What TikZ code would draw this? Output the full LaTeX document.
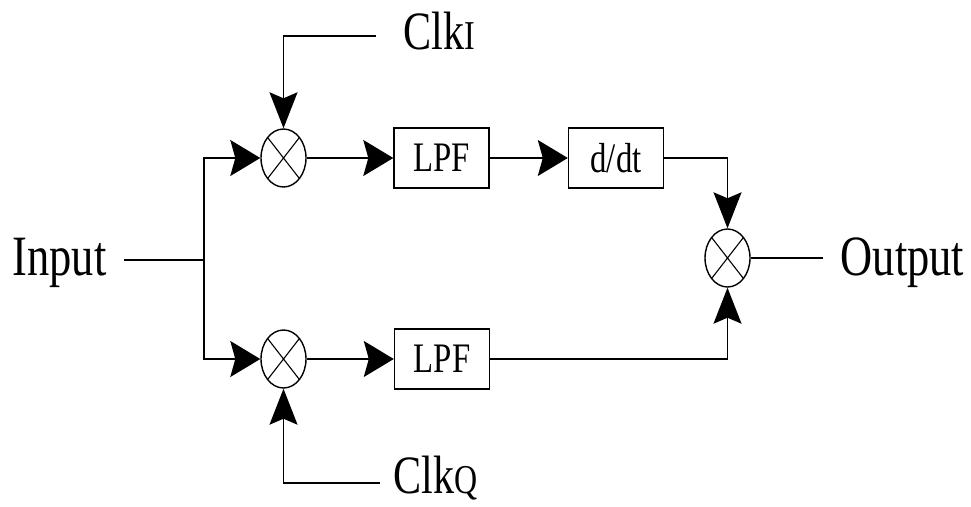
\documentclass[tikz,border=0pt]{standalone}
\usepackage{fontspec}
\setmainfont{Liberation Serif}[FakeStretch=0.78]
\usetikzlibrary{arrows.meta,shapes.geometric}

\begin{document}
\begin{tikzpicture}[x=1pt,y=-1pt, line width=1.4pt,
  mixer/.style={ellipse, draw, minimum width=45pt, minimum height=58pt, inner sep=0pt,
    path picture={\draw[line width=1.1pt]
      (path picture bounding box.north west)--(path picture bounding box.south east)
      (path picture bounding box.north east)--(path picture bounding box.south west);}},
  block/.style={draw, minimum width=95pt, minimum height=60pt, inner sep=0pt,
    font=\fontsize{42}{42}\selectfont},
  txt/.style={inner sep=0pt, anchor=base west},
  bigfont/.style={font=\fontsize{57}{57}\selectfont},
  clkfont/.style={font=\fontsize{54}{54}\selectfont},
  sub/.style={font=\fontsize{41}{41}\selectfont},
  harrow/.style={-{Stealth[length=30pt,width=36pt,inset=5pt]}},
  varrow/.style={-{Stealth[length=36pt,width=28pt,inset=6pt]}}
]
\useasboundingbox (0,0) rectangle (971,506);

% labels
\node[txt, bigfont] (in)  at (12,275)  {Input};
\node[txt, bigfont] (out) at (840,275) {Output};
\node[txt, clkfont] (ci)  at (403,49)  {Clk{\fontsize{41}{41}\selectfont I}};
\node[txt, clkfont] (cq)  at (393,493) {Clk{\fontsize{41}{41}\selectfont Q}};

% mixers and blocks
\node[mixer] (m1) at (283.5,158) {};
\node[mixer] (m2) at (283.5,359) {};
\node[mixer] (m3) at (727.5,258) {};
\node[block] (f1) at (441.5,158) {LPF};
\node[block] (dd) at (616,158)   {d/dt};
\node[block] (f2) at (442,359)   {LPF};

% line ends and branch point
\coordinate (inend)  at (124,260);
\coordinate (jn)     at (204,260);
\coordinate (outend) at (823,258);
\coordinate (ciend)  at (376,36);
\coordinate (cqend)  at (380,483);

% connections
\draw (inend) -- (jn);
\draw[harrow] (jn) |- (m1.west);
\draw[harrow] (jn) |- (m2.west);
\draw[varrow] (ciend) -| (m1.north);
\draw[varrow] (cqend) -| (m2.south);
\draw[harrow] (m1.east) -- (f1.west);
\draw[harrow] (f1.east) -- (dd.west);
\draw[harrow] (m2.east) -- (f2.west);
\draw[varrow] (dd.east) -| (m3.north);
\draw[varrow] (f2.east) -| (m3.south);
\draw (m3.east) -- (outend);
\end{tikzpicture}
\end{document}
